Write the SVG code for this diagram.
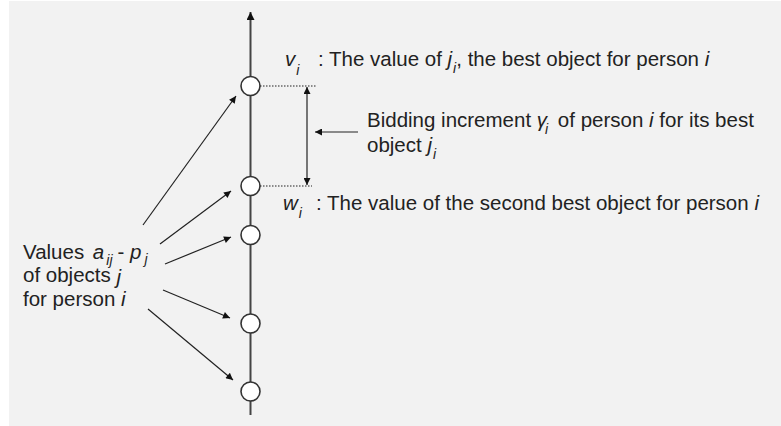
<svg xmlns="http://www.w3.org/2000/svg" width="781" height="426" viewBox="0 0 781 426">
<style>
text{font-family:"Liberation Sans",Arial,sans-serif;font-size:20.5px;fill:#222}
.it{font-style:italic}
.sub{font-size:14px;font-style:italic}
.ln{stroke:#222;stroke-width:1.2;fill:none}
.dot{stroke:#222;stroke-width:1.2;stroke-dasharray:1.5 1.5;fill:none}
.node{fill:#fff;stroke:#333;stroke-width:1.6}
</style>
<defs>
<marker id="ah" viewBox="0 0 10 10" refX="10" refY="5" markerWidth="11" markerHeight="7" markerUnits="userSpaceOnUse" orient="auto">
<path d="M0,0 L10,5 L0,10 z" fill="#111"/>
</marker>
<marker id="ahb" viewBox="0 0 10 10" refX="10" refY="5" markerWidth="13" markerHeight="8" markerUnits="userSpaceOnUse" orient="auto">
<path d="M0,0 L10,5 L0,10 z" fill="#111"/>
</marker>
</defs>
<rect x="0" y="0" width="781" height="426" fill="#fff"/>
<rect x="9" y="1" width="772" height="425" fill="#f2f2f2"/>
<g id="connectors">
<line x1="250.5" y1="415" x2="250.5" y2="12" stroke="#444" stroke-width="2" marker-end="url(#ahb)"/>
<line class="dot" x1="260" y1="86" x2="316" y2="86"/>
<line class="dot" x1="260" y1="186" x2="312" y2="186"/>
<line class="ln" x1="307" y1="135" x2="307" y2="87" marker-end="url(#ah)"/>
<line class="ln" x1="307" y1="135" x2="307" y2="185" marker-end="url(#ah)"/>
<line class="ln" x1="358" y1="132" x2="315" y2="132" marker-end="url(#ah)"/>
<line class="ln" x1="143" y1="225" x2="236" y2="96" marker-end="url(#ah)"/>
<line class="ln" x1="160" y1="244" x2="231" y2="191" marker-end="url(#ah)"/>
<line class="ln" x1="165" y1="264" x2="231" y2="237" marker-end="url(#ah)"/>
<line class="ln" x1="163" y1="290" x2="230" y2="318" marker-end="url(#ah)"/>
<line class="ln" x1="148" y1="309" x2="233" y2="380" marker-end="url(#ah)"/>
</g>
<g id="node1"><circle class="node" cx="250.5" cy="86" r="9.5"/></g>
<g id="node2"><circle class="node" cx="250.5" cy="186" r="9.5"/></g>
<g id="node3"><circle class="node" cx="250.5" cy="235" r="9.5"/></g>
<g id="node4"><circle class="node" cx="250.5" cy="323.5" r="9.5"/></g>
<g id="node5"><circle class="node" cx="250.5" cy="391.5" r="9.5"/></g>
<g id="label-v">
<text x="285" y="66"><tspan class="it">v</tspan><tspan class="sub" dx="1" dy="9">i</tspan><tspan x="318" y="66">: The value of </tspan><tspan class="it">j</tspan><tspan class="sub" dx="1" dy="7">i</tspan><tspan dy="-7">, the best object for person </tspan><tspan class="it">i</tspan></text>
</g>
<g id="label-bid">
<text x="367" y="127">Bidding increment <tspan class="it">γ</tspan><tspan class="sub" dx="-2" dy="7">i</tspan><tspan dx="4" dy="-7"> of person </tspan><tspan class="it">i</tspan> for its best</text>
<text x="367" y="152">object <tspan class="it">j</tspan><tspan class="sub" dx="1" dy="7">i</tspan></text>
</g>
<g id="label-w">
<text x="283" y="210"><tspan class="it">w</tspan><tspan class="sub" dx="1" dy="8">i</tspan><tspan x="316" y="210">: The value of the second best object for person </tspan><tspan class="it">i</tspan></text>
</g>
<g id="label-values">
<text x="23" y="259">Values <tspan class="it" dx="3">a</tspan><tspan class="sub" dx="2" dy="6">ij</tspan><tspan dx="5" dy="-6">- </tspan><tspan class="it">p</tspan><tspan class="sub" dx="3" dy="5">j</tspan></text>
<text x="23" y="282">of objects <tspan class="it" dy="2">j</tspan></text>
<text x="23" y="306">for person <tspan class="it">i</tspan></text>
</g>
</svg>
